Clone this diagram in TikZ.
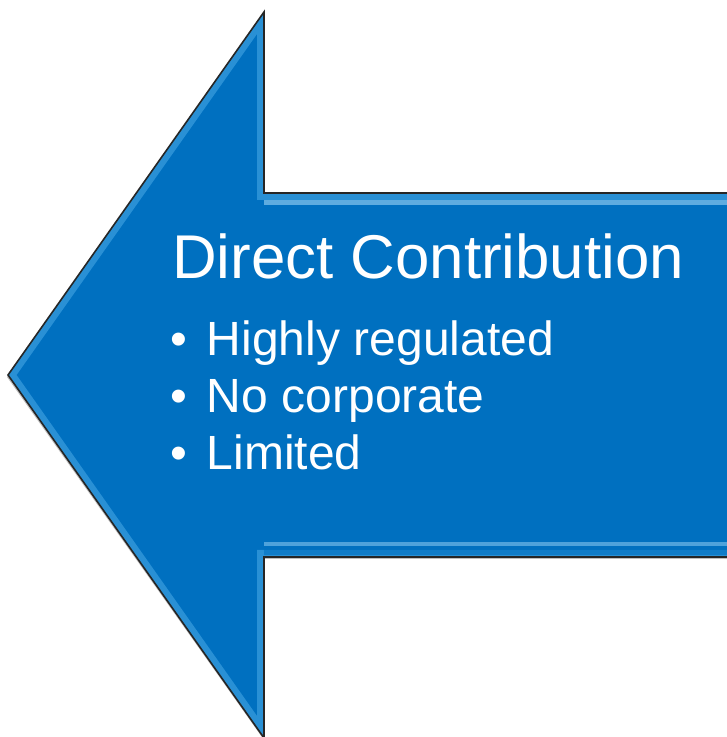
\documentclass[tikz,border=0pt]{standalone}
\usepackage{fontspec}
\setmainfont{Liberation Sans}
\usepackage{tikz}
\usetikzlibrary{positioning}

\definecolor{arrowblue}{HTML}{0070C0}
\definecolor{bevelblue}{HTML}{5BB8F0}

\begin{document}
\begin{tikzpicture}[x=1pt,y=1pt,
    title/.style={anchor=base west,text=white,font=\fontsize{61.8}{64}\selectfont,inner sep=0pt},
    item/.style={anchor=base west,text=white,font=\fontsize{48}{52}\selectfont,inner sep=0pt}]
    \useasboundingbox (0,0) rectangle (727,737);

    % arrow outline points
    \coordinate (tip) at (8,362);
    \coordinate (headtop) at (264,725);
    \coordinate (headbot) at (264,-1);
    \coordinate (shafttop) at (264,544);
    \coordinate (shaftbot) at (264,180);
    \coordinate (endtop) at (740,544);
    \coordinate (endbot) at (740,180);

    \fill[black,opacity=0.25] ([xshift=-1,yshift=-2]tip) -- ([yshift=-2]headtop) -- ([yshift=-2]shafttop) -- ([yshift=-2]endtop)
        -- ([yshift=-2]endbot) -- ([yshift=-2]shaftbot) -- ([yshift=-2]headbot) -- cycle;
    \fill[arrowblue] (tip) -- (headtop) -- (shafttop) -- (endtop) -- (endbot) -- (shaftbot) -- (headbot) -- cycle;

    % bevel
    \begin{scope}
        \clip (tip) -- (headtop) -- (shafttop) -- (endtop) -- (endbot) -- (shaftbot) -- (headbot) -- cycle;
        \draw[bevelblue,line width=14,opacity=0.45,line join=miter] (tip) -- (headtop) -- (shafttop) -- (endtop) -- (endbot) -- (shaftbot) -- (headbot) -- cycle;
        \draw[bevelblue!60!white,line width=5,opacity=0.6] ([yshift=-10]shafttop) -- ([yshift=-10]endtop);
        \draw[bevelblue!60!white,line width=4,opacity=0.5] ([yshift=13]shaftbot) -- ([yshift=13]endbot);
        \draw[arrowblue,line width=6,opacity=0.6] ([yshift=5]shaftbot) -- ([yshift=5]endbot);
    \end{scope}
    \draw[black!85,line width=1.6] (headbot) -- (tip) -- (headtop) -- (shafttop) -- (endtop);
    \draw[black!85,line width=1.6] (endbot) -- (shaftbot) -- (headbot);

    % texts
    \node[title] (head) at (172,458) {Direct Contribution};
    \node[item] (b1) at (170,381) {\textbullet\hspace{20pt}Highly regulated};
    \node[item] (b2) at (170,324) {\textbullet\hspace{20pt}No corporate};
    \node[item] (b3) at (170,267) {\textbullet\hspace{20pt}Limited};
\end{tikzpicture}
\end{document}
